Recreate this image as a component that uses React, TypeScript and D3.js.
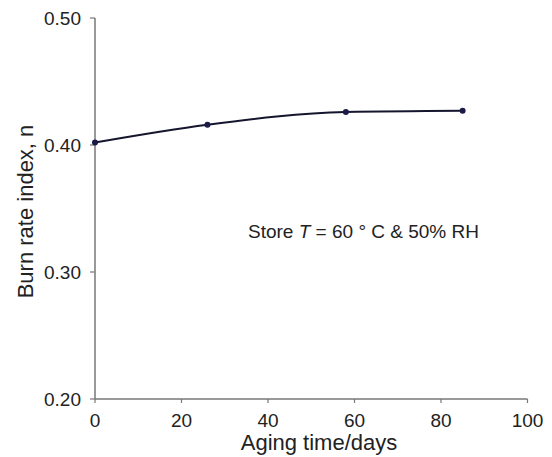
import * as d3 from "d3";

const agingDays = [0, 26, 58, 85];
const burnIndex = [0.402, 0.416, 0.426, 0.427];
const xTicks = [0, 20, 40, 60, 80, 100];
const yTicks = [0.2, 0.3, 0.4, 0.5];

const W = 552;
const H = 457;
const margin = { top: 18, right: 24, bottom: 58, left: 95 };

export default function App() {
  const x = d3.scaleLinear().domain([0, 100]).range([margin.left, W - margin.right - 0.5]);
  const y = d3.scaleLinear().domain([0.2, 0.5]).range([H - margin.bottom, margin.top]);

  const pts: [number, number][] = agingDays.map((d, i) => [d, burnIndex[i]]);
  const line = d3
    .line<[number, number]>()
    .x((d) => x(d[0]))
    .y((d) => y(d[1]))
    .curve(d3.curveMonotoneX);

  const axisColor = "#777";
  const font = "Liberation Sans, Arial, sans-serif";
  const y0 = y(0.2);

  return (
    <svg
      width={W}
      height={H}
      style={{ position: "absolute", left: 0, top: 0, background: "#fff" }}
      fontFamily={font}
    >
      {/* axes */}
      <line x1={x(0)} x2={x(0)} y1={y(0.5)} y2={y0} stroke={axisColor} strokeWidth={1.5} />
      <line x1={x(0)} x2={x(100)} y1={y0} y2={y0} stroke={axisColor} strokeWidth={1.5} />
      {yTicks.map((t) => (
        <g key={"y" + t}>
          <line x1={x(0) - 5} x2={x(0)} y1={y(t)} y2={y(t)} stroke={axisColor} strokeWidth={1.2} />
          <text x={x(0) - 14} y={y(t)} dy="0.36em" textAnchor="end" fontSize={19} fill="#222">
            {d3.format(".2f")(t)}
          </text>
        </g>
      ))}
      {xTicks.map((t) => (
        <g key={"x" + t}>
          <line x1={x(t)} x2={x(t)} y1={y0} y2={y0 + 4} stroke={axisColor} strokeWidth={1.2} />
          <text x={x(t)} y={y0 + 28} textAnchor="middle" fontSize={19} fill="#222">
            {t}
          </text>
        </g>
      ))}
      <text x={319} y={450} textAnchor="middle" fontSize={22} fill="#222">
        Aging time/days
      </text>
      <text
        transform={`translate(33, ${(y(0.5) + y0) / 2 + 3}) rotate(-90)`}
        textAnchor="middle"
        fontSize={22}
        fill="#222"
      >
        Burn rate index, n
      </text>

      {/* series */}
      <path d={line(pts) || ""} fill="none" stroke="#15152e" strokeWidth={2} />
      {pts.map((p, i) => (
        <circle key={i} cx={x(p[0])} cy={y(p[1])} r={3} fill="#1b1b4a" />
      ))}

      <text x={248} y={238} fontSize={19} fill="#222">
        Store <tspan fontStyle="italic">T</tspan> = 60 ° C &amp; 50% RH
      </text>
    </svg>
  );
}
